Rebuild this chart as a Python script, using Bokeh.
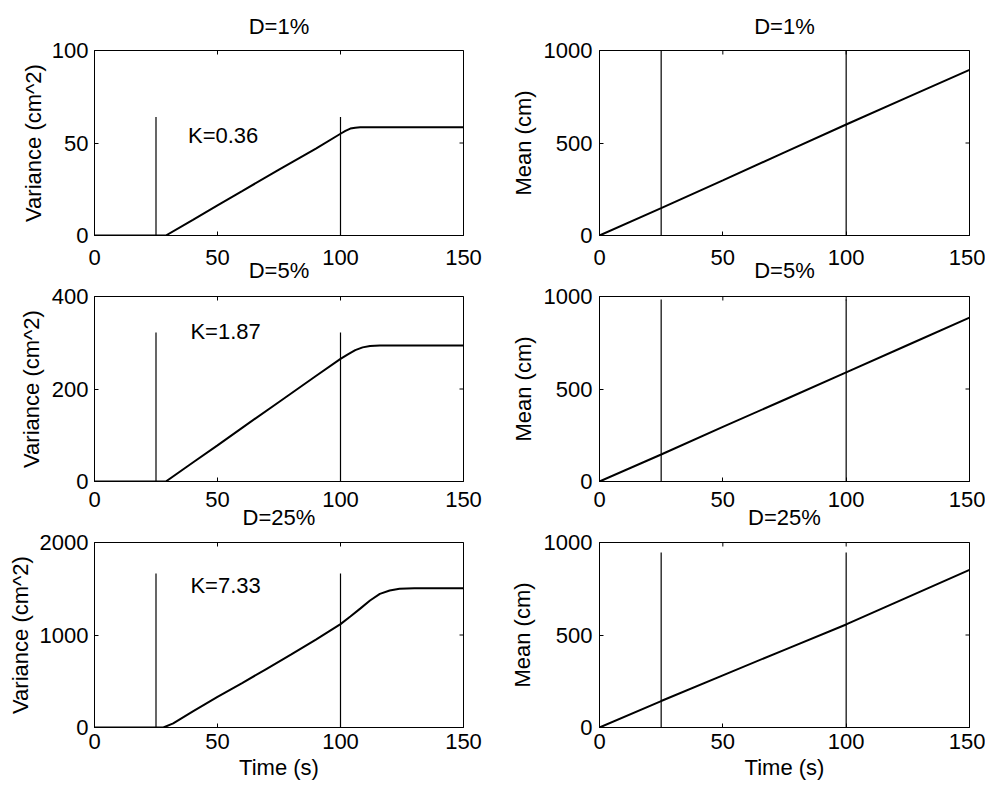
import math
from bokeh.plotting import figure
from bokeh.models import Range1d, FixedTicker, Title
from bokeh.layouts import column, row
from bokeh.embed import file_html
from bokeh.resources import INLINE
from bokeh.core.properties import value

# ---------------- data ----------------
x_ticks = [0, 50, 100, 150]
titles = ["D=1%", "D=5%", "D=25%"]

time_var_d1 = [0, 25, 29, 40, 50, 60, 75, 90, 100, 102, 104, 106, 108, 115, 150]
variance_d1 = [0, 0, 0, 8.5, 16.3, 24, 35.6, 47, 55, 56.5, 57.8, 58.3, 58.5, 58.5, 58.5]

time_var_d5 = [0, 25, 29, 40, 50, 60, 75, 90, 100, 103, 106, 109, 112, 116, 150]
variance_d5 = [0, 0, 0, 41, 78, 116, 172, 228, 265, 275, 284, 290, 293, 294, 294]

time_var_d25 = [0, 25, 28, 32, 40, 50, 60, 70, 80, 90, 100, 104, 108, 112, 116, 120, 124, 130, 150]
variance_d25 = [0, 0, 0, 45, 175, 330, 480, 635, 790, 950, 1118, 1200, 1285, 1373, 1445, 1481, 1499, 1505, 1505]

time_mean = [0, 25, 50, 75, 100, 125, 150]
mean_d1 = [0, 148, 298, 449, 600, 748, 895]
mean_d5 = [0, 146, 295, 442, 590, 738, 886]
mean_d25 = [0, 143, 282, 420, 557, 705, 852]

marker_times = [25, 100]
var_marker_top = [64, 322, 1665]
mean_marker_top = [1000, 984, 946]

var_ymax = [100, 400, 2000]
var_yticks = [[0, 50, 100], [0, 200, 400], [0, 1000, 2000]]
mean_ymax = 1000
mean_yticks = [0, 500, 1000]

k_labels = ["K=0.36", "K=1.87", "K=7.33"]
k_label_x = [38, 39, 39]
k_label_y = [54, 324, 1535]

# ---------------- style ----------------
FONT = "Liberation Sans"
FS = "22px"

var_t = [time_var_d1, time_var_d5, time_var_d25]
var_v = [variance_d1, variance_d5, variance_d25]
mean_v = [mean_d1, mean_d5, mean_d25]

row_bt = [50, 13, 13]
row_bb = [48, 48, 60]
tick_standoff = [14, 10, 6]
below_title_standoff = [-19, -9]
left_ylabel_standoff = [3, 5, 4]
right_ylabel_standoff = [5, 5, 6]


def style_axis(ax, standoff):
    ax.major_label_text_font = FONT
    ax.major_label_text_font_size = FS
    ax.major_label_text_color = "black"
    ax.major_label_standoff = standoff
    ax.major_tick_in = 4
    ax.major_tick_out = 0
    ax.major_tick_line_color = "black"
    ax.minor_tick_line_color = None
    ax.axis_line_color = "black"
    ax.axis_label_text_font = FONT
    ax.axis_label_text_font_size = FS
    ax.axis_label_text_font_style = "normal"
    ax.axis_label_text_color = "black"


def make_panel(r, is_left):
    if is_left:
        fw, bl, br = 369, 94, 27
        ymax, yticks, ylab = var_ymax[r], var_yticks[r], "Variance (cm^2)"
        ylab_standoff, ytick_standoff = left_ylabel_standoff[r], 6
    else:
        fw, bl, br = 370, 109, 16
        ymax, yticks, ylab = mean_ymax, mean_yticks, "Mean (cm)"
        ylab_standoff, ytick_standoff = right_ylabel_standoff[r], 7
    p = figure(frame_width=fw, frame_height=185,
               x_range=Range1d(0, 150), y_range=Range1d(0, ymax),
               output_backend="svg", toolbar_location=None, tools="",
               min_border_left=bl, min_border_right=br,
               min_border_top=row_bt[r], min_border_bottom=row_bb[r])
    p.xgrid.visible = False
    p.ygrid.visible = False
    p.outline_line_color = "black"
    p.outline_line_width = 1
    p.background_fill_color = "white"
    p.border_fill_color = "white"

    xa = p.xaxis[0]
    ya = p.yaxis[0]
    xa.ticker = FixedTicker(ticks=x_ticks)
    ya.ticker = FixedTicker(ticks=yticks)
    style_axis(xa, tick_standoff[r])
    style_axis(ya, ytick_standoff)
    ya.axis_label = ylab
    ya.axis_label_standoff = ylab_standoff

    # inward tick marks on the top and right edges (Matlab-style box)
    p.scatter(x=x_ticks, y=[ymax] * len(x_ticks), marker="dash", size=8,
              angle=math.pi / 2, line_color="black", line_width=1)
    p.scatter(x=[150] * len(yticks), y=yticks, marker="dash", size=8,
              line_color="black", line_width=1)

    if r == 0:
        p.title.text = titles[0]
        p.title.align = "center"
        p.title.vertical_align = "top"
        p.title.standoff = 19
        p.title.text_font = FONT
        p.title.text_font_size = FS
        p.title.text_font_style = "normal"
        p.title.text_color = "black"
    if r < 2:
        p.add_layout(Title(text=titles[r + 1], align="center", vertical_align="top",
                           standoff=below_title_standoff[r], text_font=FONT,
                           text_font_size=FS, text_font_style="normal",
                           text_color="black"), "below")
    else:
        xa.axis_label = "Time (s)"
        xa.axis_label_standoff = 3

    # vertical marker lines
    top = var_marker_top[r] if is_left else mean_marker_top[r]
    p.segment(x0=marker_times, y0=[0, 0], x1=marker_times, y1=[top, top],
              line_color="black", line_width=1.2)

    if is_left:
        p.line(var_t[r], var_v[r], line_color="black", line_width=2)
        p.text(x=[k_label_x[r]], y=[k_label_y[r]], text=[k_labels[r]],
               text_font=value(FONT), text_font_size=FS, text_color="black",
               text_align="left", text_baseline="middle")
    else:
        p.line(time_mean, mean_v[r], line_color="black", line_width=2)
    return p


rows = []
for r in range(3):
    rows.append(row(make_panel(r, True), make_panel(r, False)))
layout = column(*rows)

open("out.html", "w").write(file_html(layout, INLINE))
